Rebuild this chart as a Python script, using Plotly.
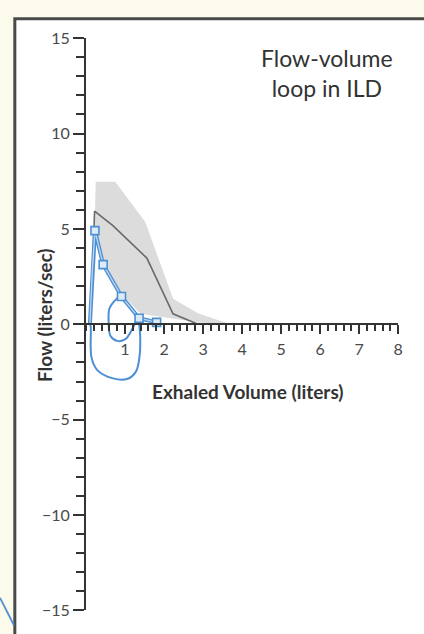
import plotly.graph_objects as go

# ---- data ----
band_upper_x = [0.22, 0.25, 0.75, 1.52, 2.23, 2.87, 3.70]
band_upper_y = [5.0, 7.47, 7.47, 5.36, 1.34, 0.58, 0.0]
band_lower_x = [3.70, 2.90, 2.20, 1.40, 0.95, 0.50, 0.22]
band_lower_y = [0.0, 0.10, 0.30, 0.55, 1.50, 3.10, 5.0]

median_x = [0.12, 0.20, 0.22, 0.69, 1.56, 2.23, 2.87]
median_y = [0.0, 4.5, 5.93, 5.17, 3.47, 0.55, 0.0]

exp_x = [0.10, 0.16, 0.23, 0.44, 0.91, 1.36, 1.81]
exp_y = [0.0, 2.70, 4.91, 3.13, 1.46, 0.32, 0.10]

marker_x = [0.23, 0.44, 0.91, 1.36, 1.81]
marker_y = [4.91, 3.13, 1.46, 0.32, 0.10]

insp_x = [1.36, 1.39, 1.37, 1.28, 1.05, 0.67, 0.29, 0.14, 0.12, 0.10]
insp_y = [0.07, -0.70, -1.72, -2.48, -2.87, -2.82, -2.40, -1.72, -0.10, 0.0]

loop2_x = [0.88, 0.71, 0.60, 0.58, 0.63, 0.80, 1.01, 1.18, 1.30]
loop2_y = [1.52, 1.17, 0.83, 0.15, -0.61, -0.87, -0.78, -0.27, 0.24]

x_ticks = [1, 2, 3, 4, 5, 6, 7, 8]
y_ticks = [-15, -10, -5, 0, 5, 10, 15]

W, H = 424, 634
BLUE = "#4d8fd3"
FONT = "Lato"

fig = go.Figure()

fig.add_trace(go.Scatter(
    x=band_upper_x + band_lower_x, y=band_upper_y + band_lower_y,
    fill="toself", fillcolor="#dcdcdc", line=dict(width=0), mode="lines",
    hoverinfo="skip"))

fig.add_trace(go.Scatter(x=median_x, y=median_y, mode="lines",
                         line=dict(color="#6a6a6a", width=1.6)))

fig.add_trace(go.Scatter(x=insp_x, y=insp_y, mode="lines",
                         line=dict(color=BLUE, width=2, shape="spline")))
fig.add_trace(go.Scatter(x=loop2_x, y=loop2_y, mode="lines",
                         line=dict(color=BLUE, width=2, shape="spline")))

fig.add_trace(go.Scatter(x=exp_x, y=exp_y, mode="lines",
                         line=dict(color=BLUE, width=4)))
fig.add_trace(go.Scatter(x=exp_x, y=exp_y, mode="lines",
                         line=dict(color="#bcd8f3", width=1.3)))
fig.add_trace(go.Scatter(x=marker_x, y=marker_y, mode="markers",
                         marker=dict(symbol="square", size=8, color="#dcebf8",
                                     line=dict(color=BLUE, width=1.6))))

x0p, x1p = 87 / W, 403 / W
y0p, y1p = (H - 619) / H, (H - 29) / H
ymid = (y0p + y1p) / 2

fig.update_layout(
    width=W, height=H, margin=dict(l=0, r=0, t=0, b=0),
    paper_bgcolor="#fcfaea", plot_bgcolor="rgba(0,0,0,0)",
    showlegend=False,
    font=dict(family=FONT, color="#444"),
    xaxis=dict(domain=[x0p, x1p], range=[0, 8], anchor="free", position=ymid,
               showgrid=False, zeroline=False, showline=True,
               linecolor="#333", linewidth=2,
               tickmode="array", tickvals=x_ticks,
               ticktext=[str(v) for v in x_ticks],
               ticks="outside", ticklen=9, tickwidth=2, tickcolor="#333",
               ticklabelstandoff=2,
               tickfont=dict(size=16, color="#4a4a4a", family=FONT),
               minor=dict(tickmode="linear", tick0=0, dtick=0.2, ticks="outside",
                          ticklen=6, tickwidth=2, tickcolor="#333")),
    yaxis=dict(domain=[y0p, y1p], range=[-15, 15], anchor="x",
               showgrid=False, zeroline=False, showline=True,
               linecolor="#333", linewidth=2,
               tickmode="array", tickvals=y_ticks,
               ticktext=[("\u2212" + str(-v)) if v < 0 else str(v) for v in y_ticks],
               ticks="outside", ticklen=11, tickwidth=2, tickcolor="#333",
               tickfont=dict(size=16, color="#4a4a4a", family=FONT),
               minor=dict(tickmode="linear", tick0=0, dtick=1, ticks="outside",
                          ticklen=8, tickwidth=2, tickcolor="#333")),
)

# white framed panel
fig.add_shape(type="rect", xref="paper", yref="paper",
              x0=15 / W, x1=1.05, y0=-0.05, y1=(H - 9) / H,
              fillcolor="white", line=dict(color="#4a4a4a", width=3),
              layer="below")
# stray curve from neighbouring panel
fig.add_shape(type="line", xref="paper", yref="paper",
              x0=0, y0=(H - 606) / H, x1=14 / W, y1=(H - 634) / H,
              line=dict(color=BLUE, width=1.8))

fig.add_annotation(text="Flow-volume<br>loop in ILD", xref="paper", yref="paper",
                   x=331 / W, y=(H - 65) / H, showarrow=False,
                   xanchor="center", yanchor="middle",
                   font=dict(size=23, color="#333", family=FONT))
fig.add_annotation(text="<b>Exhaled Volume (liters)</b>", xref="paper", yref="paper",
                   x=251 / W, y=(H - 393) / H, showarrow=False,
                   xanchor="center", yanchor="middle",
                   font=dict(size=19, color="#333", family=FONT))
fig.add_annotation(text="<b>Flow (liters/sec)</b>", xref="paper", yref="paper",
                   x=45 / W, y=(H - 314) / H, showarrow=False, textangle=-90,
                   xanchor="center", yanchor="middle",
                   font=dict(size=19, color="#333", family=FONT))

fig.write_html("out.html")
